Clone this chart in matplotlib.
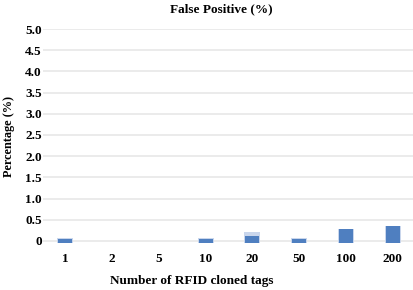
import numpy as np
import matplotlib
matplotlib.use('Agg')
import matplotlib.pyplot as plt

# data
categories = ['1', '2', '5', '10', '20', '50', '100', '200']
false_pos = [0.08, 0.0, 0.0, 0.08, 0.15, 0.08, 0.31, 0.38]
upper = [0.10, 0.0, 0.0, 0.10, 0.24, 0.10, 0.33, 0.40]
yticks = [0, 0.5, 1.0, 1.5, 2.0, 2.5, 3.0, 3.5, 4.0, 4.5, 5.0]
ytick_labels = ['0', '0.5', '1.0', '1.5', '2.0', '2.5', '3.0', '3.5', '4.0', '4.5', '5.0']

plt.rcParams['font.family'] = ['Liberation Serif', 'DejaVu Serif']
plt.rcParams['font.weight'] = 'bold'

fig = plt.figure(figsize=(4.14, 2.90), dpi=100)
ax = fig.add_axes([0.104, 0.162, 0.896, 0.738])

x = np.arange(len(categories))
ax.bar(x, upper, width=0.34, bottom=-0.04, color='#c9d6ec', zorder=2)
ax.bar(x, false_pos, width=0.3, bottom=-0.04, color='#4f7fc0', zorder=3)

ax.set_ylim(-0.05, 5.0)
ax.set_xlim(-0.47, 7.45)
ax.set_yticks(yticks)
ax.set_yticklabels(ytick_labels, fontsize=9.5, fontweight='bold')
ax.set_xticks(x)
ax.set_xticklabels(categories, fontsize=9.5, fontweight='bold')
ax.tick_params(axis='both', length=0)
ax.tick_params(axis='x', pad=7)
ax.tick_params(axis='y', pad=1)
ax.grid(axis='y', color='#ebebeb', linewidth=1.4, zorder=0)
ax.set_axisbelow(True)
for s in ax.spines.values():
    s.set_visible(False)

ax.set_title('False Positive (%)', fontsize=9.5, fontweight='bold', pad=12, x=0.48)
ax.set_xlabel('Number of RFID cloned tags', fontsize=9.5, fontweight='bold')
ax.xaxis.set_label_coords(0.40, -0.15)
ax.set_ylabel('Percentage (%)', fontsize=8.8, fontweight='bold')
ax.yaxis.set_label_coords(-0.076, 0.5)

fig.savefig('out.png', dpi=100)
